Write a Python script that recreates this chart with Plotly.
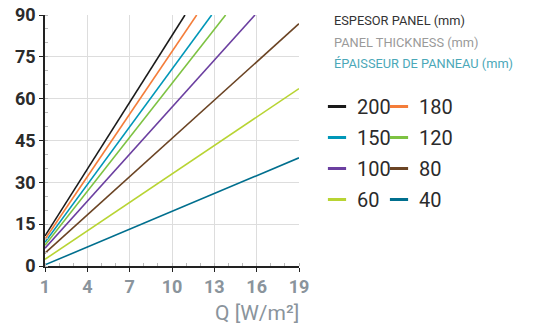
import plotly.graph_objects as go

# Panel thickness series (mm)
thickness = ["200", "180", "150", "120", "100", "80", "60", "40"]
colors = ["#1a1a1a", "#f47d3a", "#0097b8", "#7dc242", "#6b3fa0", "#6b4424", "#b8d433", "#006f8e"]

# Each line: start (x=1) and end point (top of chart or x=19)
x_start = [1, 1, 1, 1, 1, 1, 1, 1]
y_start = [10.8, 9.6, 8.5, 7.4, 6.4, 4.6, 2.4, 0.4]
x_end = [10.92, 11.75, 12.81, 13.8, 15.88, 19, 19, 19]
y_end = [90, 90, 90, 90, 90, 86.9, 63.6, 38.8]

x_ticks = [1, 4, 7, 10, 13, 16, 19]
y_ticks = [0, 15, 30, 45, 60, 75, 90]

col1 = ["200", "150", "100", "60"]

fig = go.Figure()
for i, t in enumerate(thickness):
    fig.add_trace(go.Scatter(
        x=[x_start[i], x_end[i]], y=[y_start[i], y_end[i]],
        mode="lines", line=dict(color=colors[i], width=1.6),
        showlegend=False, hoverinfo="skip"))

# legend entries (short dash symbols), two columns
order = ["200", "150", "100", "60", "180", "120", "80", "40"]
for t in order:
    i = thickness.index(t)
    fig.add_trace(go.Scatter(
        x=[None], y=[None], mode="markers", name=t,
        marker=dict(symbol="line-ew-open", size=13, color=colors[i],
                    line=dict(color=colors[i], width=3)),
        legendgroup=t,
        legend="legend" if t in col1 else "legend2"))

font_fam = "Roboto, Arial, sans-serif"
leg_common = dict(
    font=dict(family=font_fam, size=20, color="#2b2b2b"),
    bgcolor="rgba(0,0,0,0)", traceorder="grouped", tracegroupgap=2,
    itemwidth=30, xref="container", yref="container",
    xanchor="left", yanchor="top", orientation="v",
)

fig.update_layout(
    width=533, height=329,
    margin=dict(l=45, r=234, t=15, b=63, autoexpand=False),
    paper_bgcolor="white", plot_bgcolor="white",
    font=dict(family=font_fam),
    xaxis=dict(
        range=[1, 19], tickvals=x_ticks, ticktext=[str(v) for v in x_ticks],
        showgrid=True, gridcolor="#dddddd", gridwidth=1,
        showline=True, linecolor="#222222", linewidth=1.5,
        ticks="outside", ticklen=4, tickcolor="#222222", tickwidth=1.2,
        tickfont=dict(family=font_fam, size=18, color="#8a949c", weight="bold"),
        minor=dict(dtick=1, tick0=1, ticks="inside", ticklen=3, tickcolor="#bbbbbb", showgrid=False),
        zeroline=False, fixedrange=True, automargin=False,
    ),
    yaxis=dict(
        range=[0, 90], tickvals=y_ticks,
        showgrid=True, gridcolor="#dddddd", gridwidth=1,
        showline=True, linecolor="#222222", linewidth=1.5,
        ticks="outside", ticklen=4, tickcolor="#222222", tickwidth=1.2,
        tickfont=dict(family=font_fam, size=18, color="#2b2b2b", weight="bold"),
        minor=dict(dtick=5, tick0=0, ticks="inside", ticklen=3, tickcolor="#bbbbbb", showgrid=False),
        zeroline=False, fixedrange=True, automargin=False,
    ),
    legend=dict(x=317 / 533, y=1 - 87 / 329, **leg_common),
    legend2=dict(x=379 / 533, y=1 - 87 / 329, **leg_common),
)

titles = [("ESPESOR PANEL (mm)", "#333333", 21),
          ("PANEL THICKNESS (mm)", "#9a9a9a", 42),
          ("ÉPAISSEUR DE PANNEAU (mm)", "#4ba8b8", 63)]
for txt, c, ypx in titles:
    fig.add_annotation(text=txt, xref="paper", yref="paper",
                       x=(332 - 45) / 254, y=(266 - ypx) / 251,
                       xanchor="left", yanchor="middle", showarrow=False,
                       font=dict(family=font_fam, size=12.8, color=c))

fig.add_annotation(text="Q [W/m²]", xref="paper", yref="paper",
                   x=1.008, y=-(313 - 266) / 251, xanchor="right", yanchor="middle",
                   showarrow=False,
                   font=dict(family=font_fam, size=21, color="#8a949c"))

fig.write_html("out.html", config={"displayModeBar": False},
               post_script="document.body.style.margin='0';document.body.style.padding='0';")
